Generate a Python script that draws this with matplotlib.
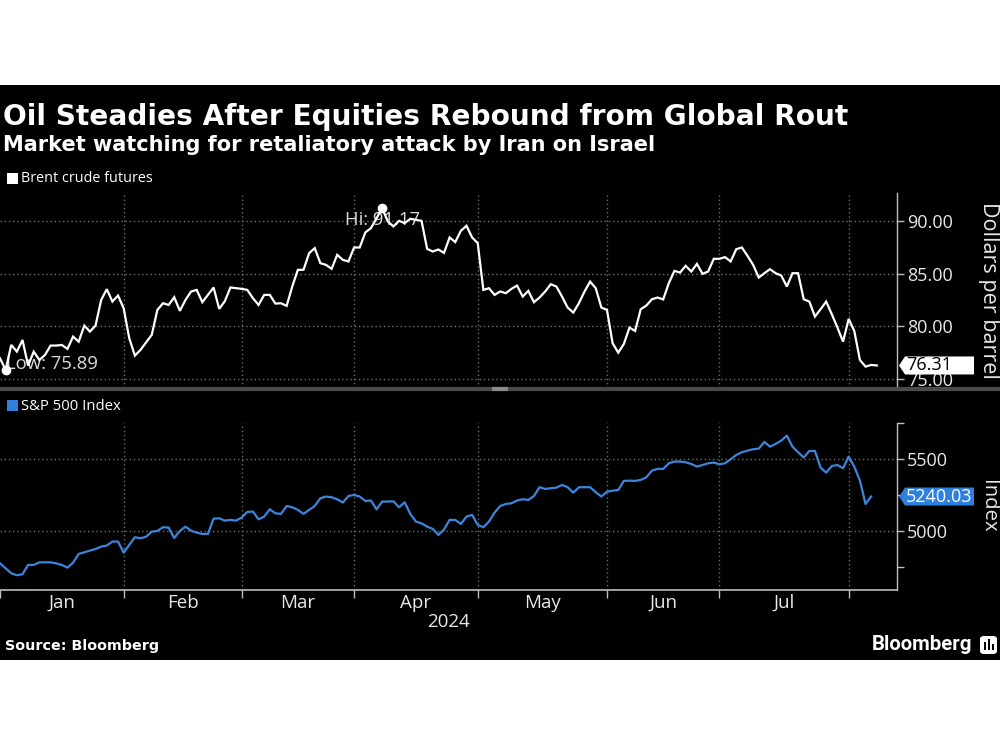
import matplotlib
matplotlib.use("Agg")
import matplotlib.pyplot as plt
import numpy as np
from matplotlib.patches import Rectangle, Polygon, FancyBboxPatch
from matplotlib.lines import Line2D
from matplotlib.transforms import IdentityTransform

plt.rcParams['font.family'] = ['Open Sans', 'DejaVu Sans']

# ---------------- data ----------------
TITLE = "Oil Steadies After Equities Rebound from Global Rout"
SUBTITLE = "Market watching for retaliatory attack by Iran on Israel"
SOURCE = "Source: Bloomberg"
BRAND = "Bloomberg"
brent_name = "Brent crude futures"
spx_name = "S&P 500 Index"
brent_unit = "Dollars per barrel"
spx_unit = "Index"

brent = [76.99, 75.89, 78.25, 77.62, 78.72, 76.30, 77.62, 76.83, 77.30, 78.19,
         78.19, 78.25, 77.87, 79.04, 78.56, 80.08, 79.51, 80.08, 82.50, 83.52,
         82.35, 82.92, 81.72, 78.88, 77.24, 77.78, 78.50, 79.20, 81.56, 82.19,
         82.03, 82.76, 81.47, 82.50, 83.30, 83.45, 82.29, 82.98, 83.68, 81.66,
         82.38, 83.68, 83.61, 83.55, 83.45, 82.67, 82.03, 82.98, 82.98, 82.16,
         82.19, 81.94, 83.77, 85.35, 85.35, 86.92, 87.40, 85.98, 85.82, 85.44,
         86.77, 86.29, 86.14, 87.46, 87.46, 88.88, 89.29, 90.24, 91.17, 89.92,
         89.45, 89.98, 89.76, 90.17, 90.08, 89.98, 87.33, 87.08, 87.27, 86.95,
         88.41, 87.97, 89.04, 89.51, 88.41, 87.87, 83.45, 83.61, 82.98, 83.30,
         83.14, 83.55, 83.86, 82.82, 83.36, 82.29, 82.73, 83.30, 83.99, 83.77,
         82.82, 81.78, 81.31, 82.19, 83.30, 84.24, 83.61, 81.78, 81.56, 78.41,
         77.52, 78.34, 79.89, 79.57, 81.62, 81.97, 82.57, 82.73, 82.55, 84.09,
         85.25, 85.09, 85.73, 85.19, 85.91, 84.97, 85.19, 86.39, 86.39, 86.55,
         86.14, 87.30, 87.46, 86.67, 85.82, 84.62, 85.03, 85.41, 85.03, 84.81,
         83.77, 85.03, 85.03, 82.57, 82.35, 80.93, 81.62, 82.35, 81.15, 79.89,
         78.56, 80.71, 79.57, 76.83, 76.20, 76.36, 76.31]

spx = [4774, 4740, 4705, 4691, 4698, 4763, 4763, 4781, 4781, 4781,
       4774, 4763, 4744, 4779, 4840, 4851, 4863, 4874, 4891, 4898,
       4926, 4926, 4849, 4902, 4956, 4949, 4960, 4995, 5000, 5026,
       5023, 4951, 5000, 5030, 5002, 4988, 4979, 4979, 5086, 5088,
       5072, 5077, 5072, 5093, 5133, 5135, 5081, 5100, 5151, 5123,
       5119, 5174, 5165, 5147, 5119, 5147, 5174, 5228, 5240, 5235,
       5221, 5198, 5244, 5251, 5240, 5209, 5212, 5151, 5205, 5205,
       5207, 5165, 5200, 5119, 5065, 5053, 5030, 5014, 4972, 5010,
       5077, 5077, 5049, 5100, 5112, 5042, 5026, 5065, 5128, 5174,
       5188, 5193, 5212, 5221, 5216, 5244, 5305, 5293, 5298, 5302,
       5321, 5305, 5267, 5305, 5305, 5305, 5270, 5240, 5274, 5281,
       5286, 5349, 5351, 5349, 5356, 5374, 5421, 5433, 5433, 5472,
       5484, 5484, 5479, 5467, 5449, 5460, 5472, 5477, 5465, 5472,
       5500, 5530, 5549, 5560, 5570, 5574, 5621, 5588, 5607, 5630,
       5665, 5588, 5549, 5512, 5558, 5558, 5442, 5407, 5453, 5460,
       5437, 5519, 5449, 5351, 5188, 5240.03]

month_labels = ["Jan", "Feb", "Mar", "Apr", "May", "Jun", "Jul"]
month_end_idx = [0, 22, 43, 63, 85, 108, 128, 151]   # last trading day of each month
year_label = "2024"
brent_ticks = [75, 80, 85, 90]
spx_ticks = [4750, 5000, 5250, 5500, 5750]
spx_labeled = [5000, 5500]

# ---------------- style ----------------
W, H = 1000, 750
BG = "#000000"
WHITE = "#ffffff"
TXT = "#e8e8e8"
GRID = "#6e6e6e"
SPINE = "#bdbdbd"
BLUE = "#3b86dc"
BLUE_BOX = "#2f80de"


def fx(px):
    return px / W


def fy(py):
    return 1 - py / H


fig = plt.figure(figsize=(W / 100, H / 100), dpi=100, facecolor="white")

# black chart card
fig.add_artist(Rectangle((0, fy(660)), 1, fy(85) - fy(660), transform=fig.transFigure,
                         facecolor=BG, edgecolor="none", zorder=-10))

ax_l, ax_r = 0, 897
ax1 = fig.add_axes([fx(ax_l), fy(388), fx(ax_r - ax_l), fy(193) - fy(388)], zorder=0)
ax2 = fig.add_axes([fx(ax_l), fy(590), fx(ax_r - ax_l), fy(423) - fy(590)], zorder=2)

xb = np.arange(len(brent))
xs = np.arange(len(spx))
XMAX = 159.6

for ax in (ax1, ax2):
    ax.set_facecolor(BG)
    ax.set_xlim(0, XMAX)
    for s in ("left", "top"):
        ax.spines[s].set_visible(False)
    ax.spines["right"].set_color(SPINE)
    ax.spines["right"].set_linewidth(1)
    ax.yaxis.tick_right()
    ax.tick_params(axis="y", direction="out", length=5, width=1, color=SPINE,
                   labelcolor=TXT, labelsize=13, pad=2)
    for m in month_end_idx[1:]:
        ax.axvline(m, color=GRID, lw=1, ls=(0, (1, 2)), zorder=0.5)

# ---- top panel: Brent ----
ax1.set_ylim(74.18, 92.61)
ax1.spines["bottom"].set_visible(False)
ax1.set_xticks([])
ax1.set_yticks(brent_ticks)
ax1.set_yticklabels([f"{t:.2f}" for t in brent_ticks])
for t in brent_ticks:
    ax1.axhline(t, color=GRID, lw=1, ls=(0, (1, 2)), zorder=0.5)
ax1.plot(xb, brent, color=WHITE, lw=1.6, zorder=3, solid_joinstyle="miter")

imax = int(np.argmax(brent))
imin = int(np.argmin(brent))
ax1.plot([imax, imin], [brent[imax], brent[imin]], "o", color=WHITE, ms=6, zorder=4)
ax1.annotate(f"Hi: {brent[imax]:.2f}", xy=(imax, brent[imax]), xytext=(0, -2),
             textcoords="offset points", ha="center", va="top", color="#dcdcdc",
             fontsize=13.3, zorder=2)
ax1.annotate(f"Low: {brent[imin]:.2f}", xy=(imin, brent[imin]), xytext=(0.5, 1),
             textcoords="offset points", ha="left", va="baseline", color="#dcdcdc",
             fontsize=13.3, zorder=2)

# ---- bottom panel: S&P ----
ax2.set_ylim(4588, 5753)
ax2.set_yticks(spx_ticks)
ax2.set_yticklabels([str(t) if t in spx_labeled else "" for t in spx_ticks])
for t in spx_labeled:
    ax2.axhline(t, color=GRID, lw=1, ls=(0, (1, 2)), zorder=0.5)
ax2.plot(xs, spx, color=BLUE, lw=1.6, zorder=3)
ax2.spines["bottom"].set_color(SPINE)
ax2.spines["bottom"].set_linewidth(1.2)
ax2.set_xticks(month_end_idx)
ax2.set_xticklabels([""] * len(month_end_idx))
ax2.tick_params(axis="x", direction="out", length=6, width=1, color=SPINE)
centers = [(a + b) / 2 for a, b in zip(month_end_idx[:-1], month_end_idx[1:])]
ax2.set_xticks(centers, minor=True)
ax2.set_xticklabels(month_labels, minor=True)
ax2.tick_params(axis="x", which="minor", length=0, labelsize=13.5, labelcolor=TXT, pad=3)

# cover for the lower panel (clips top panel labels at the divider)
fig.add_artist(Rectangle((0, fy(660)), 1, fy(389) - fy(660), transform=fig.transFigure,
                         facecolor=BG, edgecolor="none", zorder=1))
# divider
fig.add_artist(Line2D([0, 1], [fy(388.5), fy(388.5)], transform=fig.transFigure,
                      color="#4a4a4a", lw=3, zorder=1.5))
fig.add_artist(Line2D([fx(494), fx(506)], [fy(388.5), fy(388.5)], transform=fig.transFigure,
                      color="#8a8a8a", lw=3, zorder=1.6))

# ---------------- texts ----------------
renderer = fig.canvas.get_renderer()


def fit(t, width_px, vertical=False):
    bb = t.get_window_extent(renderer)
    w = bb.height if vertical else bb.width
    t.set_fontsize(t.get_fontsize() * width_px / w)
    return t


fit(fig.text(fx(3), fy(125), TITLE, color=WHITE, fontsize=24, fontweight="bold",
             family="DejaVu Sans", va="baseline", ha="left"), 845)
fit(fig.text(fx(3), fy(151), SUBTITLE, color=WHITE, fontsize=16, fontweight="bold",
             family="DejaVu Sans", va="baseline", ha="left"), 652)

# legends
fig.add_artist(Rectangle((fx(7), fy(184)), fx(11), fy(173) - fy(184), transform=fig.transFigure,
                         facecolor=WHITE, edgecolor="none", zorder=5))
fit(fig.text(fx(21), fy(179), brent_name, color=WHITE, fontsize=10, va="center", ha="left",
             zorder=5), 132)
fig.add_artist(Rectangle((fx(7), fy(411)), fx(11), fy(400) - fy(411), transform=fig.transFigure,
                         facecolor=BLUE_BOX, edgecolor="none", zorder=5))
fit(fig.text(fx(21), fy(406), spx_name, color=WHITE, fontsize=10, va="center", ha="left",
             zorder=5), 100)

# axis titles (rotated, right side)
fit(fig.text(fx(988), (fy(193) + fy(388)) / 2, brent_unit, rotation=270, color=TXT,
             fontsize=14, ha="center", va="center", zorder=5), 177, vertical=True)
fit(fig.text(fx(988), (fy(423) + fy(590)) / 2, spx_unit, rotation=270, color=TXT,
             fontsize=14, ha="center", va="center", zorder=5), 53, vertical=True)

# year label centred under axis
fig.text(fx((ax_l + ax_r) / 2), fy(622), year_label, color=TXT, fontsize=13.5,
         ha="center", va="center", zorder=5)

# footer
fit(fig.text(fx(5), fy(646), SOURCE, color=WHITE, fontsize=10, fontweight="bold",
             family="DejaVu Sans", va="center", ha="left", zorder=5), 153)
fit(fig.text(fx(872), fy(645), BRAND, color=WHITE, fontsize=14, fontweight="bold",
             family=["Roboto", "DejaVu Sans"], va="center", ha="left", zorder=5), 101)
fig.add_artist(FancyBboxPatch((fx(980), fy(654)), fx(17), fy(636) - fy(654),
                              boxstyle="round,pad=0,rounding_size=0.004",
                              transform=fig.transFigure, facecolor=WHITE,
                              edgecolor="none", zorder=5))
for bx, bh in [(983.5, 8), (987.5, 11), (991.5, 6)]:
    fig.add_artist(Rectangle((fx(bx), fy(650)), fx(2), fy(650 - bh) - fy(650),
                             transform=fig.transFigure, facecolor=BG,
                             edgecolor="none", zorder=6))


# last-value tags
def value_tag(ax, value, text, face, tcolor):
    x0 = ax.transAxes.transform((1, 0))[0]
    y0 = ax.transData.transform((0, value))[1]
    hh = 9
    verts = [(x0 + 2, y0), (x0 + 8, y0 + hh), (x0 + 77, y0 + hh),
             (x0 + 77, y0 - hh), (x0 + 8, y0 - hh)]
    fig.add_artist(Polygon(verts, closed=True, transform=IdentityTransform(),
                           facecolor=face, edgecolor="none", zorder=7))
    fig.text((x0 + 9) / W, y0 / H, text, color=tcolor, fontsize=13, ha="left",
             va="center", zorder=8)


value_tag(ax1, brent[-1], f"{brent[-1]:.2f}", WHITE, "#000000")
value_tag(ax2, spx[-1], f"{spx[-1]:.2f}", BLUE_BOX, WHITE)

fig.savefig("out.png", dpi=100, facecolor=fig.get_facecolor())
